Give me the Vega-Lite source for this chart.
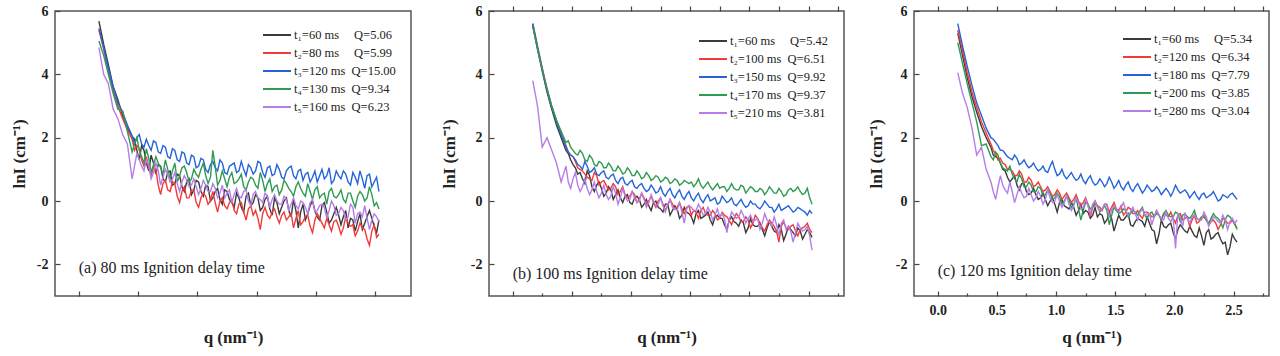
{
"$schema":"https://vega.github.io/schema/vega-lite/v6.json",
"autosize":{"type":"pad"},
"padding":{"left":9,"top":3,"right":5,"bottom":2},
"background":"white",
"bounds":"flush",
"config":{
 "font":"Liberation Serif",
 "view":{"stroke":"#555","strokeWidth":1.5},
 "axis":{"domain":false,"grid":false,"tickColor":"#444","tickWidth":1.2,"labelFont":"Liberation Serif","labelFontWeight":"bold","labelFontSize":14,"labelColor":"#222","titleFont":"Liberation Serif","titleFontWeight":"bold","titleFontSize":17,"titleColor":"#222"},
 "legend":{"title":null,"symbolType":"stroke","symbolSize":784,"symbolStrokeWidth":2,"clipHeight":16,"rowPadding":2,"labelFont":"Liberation Serif","labelFontSize":12.5,"labelColor":"#222","labelOffset":2,"labelLimit":0,"orient":"none"}
},
"datasets":{
"a":[
{"s":1,"q":0.17,"y":5.68},{"s":1,"q":0.21,"y":4.95},{"s":1,"q":0.25,"y":4.3},{"s":1,"q":0.29,"y":3.62},{"s":1,"q":0.33,"y":3.2},{"s":1,"q":0.37,"y":2.7},{"s":1,"q":0.41,"y":2.3},{"s":1,"q":0.45,"y":2.05},{"s":1,"q":0.49,"y":1.6},{"s":1,"q":0.53,"y":1.75},
{"s":1,"q":0.57,"y":1.2},{"s":1,"q":0.61,"y":1.45},{"s":1,"q":0.65,"y":0.85},{"s":1,"q":0.69,"y":1.1},{"s":1,"q":0.73,"y":0.6},{"s":1,"q":0.77,"y":0.95},{"s":1,"q":0.81,"y":0.55},{"s":1,"q":0.85,"y":0.8},{"s":1,"q":0.89,"y":0.3},{"s":1,"q":0.93,"y":0.7},
{"s":1,"q":0.97,"y":0.35},{"s":1,"q":1.01,"y":0.6},{"s":1,"q":1.05,"y":0.15},{"s":1,"q":1.09,"y":0.45},{"s":1,"q":1.13,"y":0.1},{"s":1,"q":1.17,"y":0.4},{"s":1,"q":1.21,"y":-0.1},{"s":1,"q":1.25,"y":0.3},{"s":1,"q":1.29,"y":-0.05},{"s":1,"q":1.33,"y":0.25},
{"s":1,"q":1.37,"y":-0.2},{"s":1,"q":1.41,"y":0.15},{"s":1,"q":1.45,"y":-0.15},{"s":1,"q":1.49,"y":0.2},{"s":1,"q":1.53,"y":-0.3},{"s":1,"q":1.57,"y":0.05},{"s":1,"q":1.61,"y":-0.25},{"s":1,"q":1.65,"y":0.1},{"s":1,"q":1.69,"y":-0.4},{"s":1,"q":1.73,"y":0},
{"s":1,"q":1.77,"y":-0.3},{"s":1,"q":1.81,"y":0.05},{"s":1,"q":1.85,"y":-0.85},{"s":1,"q":1.89,"y":-0.1},{"s":1,"q":1.93,"y":-0.4},{"s":1,"q":1.97,"y":0},{"s":1,"q":2.01,"y":-0.5},{"s":1,"q":2.05,"y":-0.15},{"s":1,"q":2.09,"y":-0.35},{"s":1,"q":2.13,"y":-0.6},
{"s":1,"q":2.17,"y":-0.2},{"s":1,"q":2.21,"y":-0.75},{"s":1,"q":2.25,"y":-0.3},{"s":1,"q":2.29,"y":-0.55},{"s":1,"q":2.33,"y":-0.95},{"s":1,"q":2.37,"y":-0.4},{"s":1,"q":2.41,"y":-0.7},{"s":1,"q":2.45,"y":-0.3},{"s":1,"q":2.49,"y":-0.8},{"s":1,"q":2.53,"y":-0.6},
{"s":2,"q":0.17,"y":5.4},{"s":2,"q":0.21,"y":4.8},{"s":2,"q":0.25,"y":4.1},{"s":2,"q":0.29,"y":3.5},{"s":2,"q":0.33,"y":3.0},{"s":2,"q":0.37,"y":2.6},{"s":2,"q":0.41,"y":2.25},{"s":2,"q":0.45,"y":1.95},{"s":2,"q":0.49,"y":1.75},{"s":2,"q":0.53,"y":1.3},
{"s":2,"q":0.57,"y":1.4},{"s":2,"q":0.61,"y":0.8},{"s":2,"q":0.65,"y":1.0},{"s":2,"q":0.69,"y":0.2},{"s":2,"q":0.73,"y":0.65},{"s":2,"q":0.77,"y":0.3},{"s":2,"q":0.81,"y":0.55},{"s":2,"q":0.85,"y":-0.05},{"s":2,"q":0.89,"y":0.45},{"s":2,"q":0.93,"y":0.1},
{"s":2,"q":0.97,"y":0.35},{"s":2,"q":1.01,"y":-0.2},{"s":2,"q":1.05,"y":0.25},{"s":2,"q":1.09,"y":-0.1},{"s":2,"q":1.13,"y":0.3},{"s":2,"q":1.17,"y":-0.35},{"s":2,"q":1.21,"y":0.1},{"s":2,"q":1.25,"y":-0.25},{"s":2,"q":1.29,"y":0.05},{"s":2,"q":1.33,"y":-0.4},
{"s":2,"q":1.37,"y":-0.05},{"s":2,"q":1.41,"y":-0.6},{"s":2,"q":1.45,"y":-0.15},{"s":2,"q":1.49,"y":-0.3},{"s":2,"q":1.53,"y":-0.9},{"s":2,"q":1.57,"y":-0.2},{"s":2,"q":1.61,"y":-0.55},{"s":2,"q":1.65,"y":-0.25},{"s":2,"q":1.69,"y":-0.7},{"s":2,"q":1.73,"y":-0.35},
{"s":2,"q":1.77,"y":-0.5},{"s":2,"q":1.81,"y":-0.85},{"s":2,"q":1.85,"y":-0.3},{"s":2,"q":1.89,"y":-0.65},{"s":2,"q":1.93,"y":-0.45},{"s":2,"q":1.97,"y":-1.0},{"s":2,"q":2.01,"y":-0.4},{"s":2,"q":2.05,"y":-0.7},{"s":2,"q":2.09,"y":-0.55},{"s":2,"q":2.13,"y":-0.95},
{"s":2,"q":2.17,"y":-0.6},{"s":2,"q":2.21,"y":-1.05},{"s":2,"q":2.25,"y":-0.5},{"s":2,"q":2.29,"y":-0.8},{"s":2,"q":2.33,"y":-1.1},{"s":2,"q":2.37,"y":-0.7},{"s":2,"q":2.41,"y":-0.9},{"s":2,"q":2.45,"y":-1.4},{"s":2,"q":2.49,"y":-0.75},{"s":2,"q":2.53,"y":-1.05},
{"s":3,"q":0.17,"y":5.45},{"s":3,"q":0.21,"y":4.85},{"s":3,"q":0.25,"y":4.2},{"s":3,"q":0.29,"y":3.6},{"s":3,"q":0.33,"y":3.1},{"s":3,"q":0.37,"y":2.8},{"s":3,"q":0.41,"y":2.4},{"s":3,"q":0.45,"y":2.05},{"s":3,"q":0.49,"y":2.0},{"s":3,"q":0.53,"y":1.8},
{"s":3,"q":0.57,"y":1.95},{"s":3,"q":0.61,"y":1.6},{"s":3,"q":0.65,"y":1.85},{"s":3,"q":0.69,"y":1.5},{"s":3,"q":0.73,"y":1.7},{"s":3,"q":0.77,"y":1.35},{"s":3,"q":0.81,"y":1.6},{"s":3,"q":0.85,"y":1.25},{"s":3,"q":0.89,"y":1.5},{"s":3,"q":0.93,"y":1.15},
{"s":3,"q":0.97,"y":1.4},{"s":3,"q":1.01,"y":1.1},{"s":3,"q":1.05,"y":1.3},{"s":3,"q":1.09,"y":0.9},{"s":3,"q":1.13,"y":1.25},{"s":3,"q":1.17,"y":0.95},{"s":3,"q":1.21,"y":1.2},{"s":3,"q":1.25,"y":0.85},{"s":3,"q":1.29,"y":1.15},{"s":3,"q":1.33,"y":0.9},
{"s":3,"q":1.37,"y":1.25},{"s":3,"q":1.41,"y":0.8},{"s":3,"q":1.45,"y":1.05},{"s":3,"q":1.49,"y":0.95},{"s":3,"q":1.53,"y":1.2},{"s":3,"q":1.57,"y":0.75},{"s":3,"q":1.61,"y":1.1},{"s":3,"q":1.65,"y":0.85},{"s":3,"q":1.69,"y":1.0},{"s":3,"q":1.73,"y":0.7},
{"s":3,"q":1.77,"y":1.05},{"s":3,"q":1.81,"y":0.8},{"s":3,"q":1.85,"y":0.95},{"s":3,"q":1.89,"y":0.65},{"s":3,"q":1.93,"y":0.9},{"s":3,"q":1.97,"y":0.75},{"s":3,"q":2.01,"y":0.6},{"s":3,"q":2.05,"y":1.0},{"s":3,"q":2.09,"y":0.8},{"s":3,"q":2.13,"y":0.55},
{"s":3,"q":2.17,"y":0.95},{"s":3,"q":2.21,"y":0.7},{"s":3,"q":2.25,"y":0.85},{"s":3,"q":2.29,"y":0.5},{"s":3,"q":2.33,"y":0.75},{"s":3,"q":2.37,"y":0.95},{"s":3,"q":2.41,"y":0.4},{"s":3,"q":2.45,"y":0.85},{"s":3,"q":2.49,"y":0.6},{"s":3,"q":2.53,"y":0.3},
{"s":4,"q":0.17,"y":5.05},{"s":4,"q":0.21,"y":4.6},{"s":4,"q":0.25,"y":4.0},{"s":4,"q":0.29,"y":3.4},{"s":4,"q":0.33,"y":2.9},{"s":4,"q":0.37,"y":2.85},{"s":4,"q":0.41,"y":2.2},{"s":4,"q":0.45,"y":1.55},{"s":4,"q":0.49,"y":2.0},{"s":4,"q":0.53,"y":1.4},
{"s":4,"q":0.57,"y":1.65},{"s":4,"q":0.61,"y":0.9},{"s":4,"q":0.65,"y":1.4},{"s":4,"q":0.69,"y":1.05},{"s":4,"q":0.73,"y":1.3},{"s":4,"q":0.77,"y":0.7},{"s":4,"q":0.81,"y":1.2},{"s":4,"q":0.85,"y":0.8},{"s":4,"q":0.89,"y":1.1},{"s":4,"q":0.93,"y":0.6},
{"s":4,"q":0.97,"y":1.0},{"s":4,"q":1.01,"y":0.75},{"s":4,"q":1.05,"y":1.2},{"s":4,"q":1.09,"y":0.55},{"s":4,"q":1.13,"y":1.6},{"s":4,"q":1.17,"y":0.5},{"s":4,"q":1.21,"y":0.95},{"s":4,"q":1.25,"y":0.45},{"s":4,"q":1.29,"y":0.9},{"s":4,"q":1.33,"y":0.6},
{"s":4,"q":1.37,"y":0.85},{"s":4,"q":1.41,"y":0.35},{"s":4,"q":1.45,"y":0.75},{"s":4,"q":1.49,"y":0.5},{"s":4,"q":1.53,"y":0.9},{"s":4,"q":1.57,"y":0.3},{"s":4,"q":1.61,"y":0.7},{"s":4,"q":1.65,"y":0.45},{"s":4,"q":1.69,"y":0.2},{"s":4,"q":1.73,"y":0.65},
{"s":4,"q":1.77,"y":0.4},{"s":4,"q":1.81,"y":0.15},{"s":4,"q":1.85,"y":0.6},{"s":4,"q":1.89,"y":0.25},{"s":4,"q":1.93,"y":0.55},{"s":4,"q":1.97,"y":0.05},{"s":4,"q":2.01,"y":0.45},{"s":4,"q":2.05,"y":0.2},{"s":4,"q":2.09,"y":-0.1},{"s":4,"q":2.13,"y":0.4},
{"s":4,"q":2.17,"y":0.1},{"s":4,"q":2.21,"y":0.35},{"s":4,"q":2.25,"y":-0.05},{"s":4,"q":2.29,"y":0.25},{"s":4,"q":2.33,"y":-0.2},{"s":4,"q":2.37,"y":0.3},{"s":4,"q":2.41,"y":0},{"s":4,"q":2.45,"y":0.45},{"s":4,"q":2.49,"y":-0.15},{"s":4,"q":2.53,"y":-0.25},
{"s":5,"q":0.17,"y":4.85},{"s":5,"q":0.21,"y":4.0},{"s":5,"q":0.25,"y":3.7},{"s":5,"q":0.29,"y":2.9},{"s":5,"q":0.33,"y":2.6},{"s":5,"q":0.37,"y":2.1},{"s":5,"q":0.41,"y":1.8},{"s":5,"q":0.45,"y":0.7},{"s":5,"q":0.49,"y":1.5},{"s":5,"q":0.53,"y":1.1},
{"s":5,"q":0.57,"y":1.3},{"s":5,"q":0.61,"y":0.7},{"s":5,"q":0.65,"y":1.2},{"s":5,"q":0.69,"y":0.5},{"s":5,"q":0.73,"y":1.0},{"s":5,"q":0.77,"y":0.6},{"s":5,"q":0.81,"y":0.9},{"s":5,"q":0.85,"y":0.3},{"s":5,"q":0.89,"y":0.8},{"s":5,"q":0.93,"y":0.45},
{"s":5,"q":0.97,"y":0.7},{"s":5,"q":1.01,"y":0.2},{"s":5,"q":1.05,"y":0.65},{"s":5,"q":1.09,"y":0.3},{"s":5,"q":1.13,"y":0.55},{"s":5,"q":1.17,"y":0.1},{"s":5,"q":1.21,"y":0.5},{"s":5,"q":1.25,"y":0.25},{"s":5,"q":1.29,"y":-0.05},{"s":5,"q":1.33,"y":0.4},
{"s":5,"q":1.37,"y":0.1},{"s":5,"q":1.41,"y":0.35},{"s":5,"q":1.45,"y":-0.15},{"s":5,"q":1.49,"y":0.3},{"s":5,"q":1.53,"y":0.05},{"s":5,"q":1.57,"y":0.25},{"s":5,"q":1.61,"y":-0.2},{"s":5,"q":1.65,"y":0.2},{"s":5,"q":1.69,"y":-0.1},{"s":5,"q":1.73,"y":0.15},
{"s":5,"q":1.77,"y":-0.3},{"s":5,"q":1.81,"y":0.1},{"s":5,"q":1.85,"y":-0.25},{"s":5,"q":1.89,"y":-0.05},{"s":5,"q":1.93,"y":-0.4},{"s":5,"q":1.97,"y":0.05},{"s":5,"q":2.01,"y":-0.3},{"s":5,"q":2.05,"y":-0.1},{"s":5,"q":2.09,"y":-0.55},{"s":5,"q":2.13,"y":0},
{"s":5,"q":2.17,"y":-0.45},{"s":5,"q":2.21,"y":-0.2},{"s":5,"q":2.25,"y":-0.6},{"s":5,"q":2.29,"y":-0.1},{"s":5,"q":2.33,"y":-0.7},{"s":5,"q":2.37,"y":-0.35},{"s":5,"q":2.41,"y":-0.15},{"s":5,"q":2.45,"y":-0.9},{"s":5,"q":2.49,"y":-0.4},{"s":5,"q":2.53,"y":-0.65},
{"s":1,"q":0.47,"y":1.95},{"s":1,"q":0.51,"y":1.3},{"s":1,"q":0.55,"y":1.6},{"s":1,"q":0.59,"y":0.95},{"s":1,"q":0.63,"y":1.2},{"s":1,"q":0.67,"y":1.15},{"s":1,"q":0.71,"y":0.7},{"s":1,"q":0.75,"y":0.9},{"s":1,"q":0.79,"y":0.5},{"s":1,"q":0.83,"y":0.85},
{"s":1,"q":0.87,"y":0.45},{"s":1,"q":0.91,"y":0.6},{"s":1,"q":0.95,"y":0.2},{"s":1,"q":0.99,"y":0.65},{"s":1,"q":1.03,"y":0.3},{"s":1,"q":1.07,"y":0.5},{"s":1,"q":1.11,"y":0},{"s":1,"q":1.15,"y":0.3},{"s":1,"q":1.19,"y":0.05},{"s":1,"q":1.23,"y":0.35},
{"s":1,"q":1.27,"y":0.05},{"s":1,"q":1.31,"y":-0.2},{"s":1,"q":1.35,"y":0.1},{"s":1,"q":1.39,"y":-0.35},{"s":1,"q":1.43,"y":0.25},{"s":1,"q":1.47,"y":-0.05},{"s":1,"q":1.51,"y":0.1},{"s":1,"q":1.55,"y":-0.2},{"s":1,"q":1.59,"y":0.15},{"s":1,"q":1.63,"y":-0.45},
{"s":1,"q":1.67,"y":-0.05},{"s":1,"q":1.71,"y":-0.2},{"s":1,"q":1.75,"y":0.1},{"s":1,"q":1.79,"y":-0.5},{"s":1,"q":1.83,"y":-0.3},{"s":1,"q":1.87,"y":-0.35},{"s":1,"q":1.91,"y":-0.6},{"s":1,"q":1.95,"y":-0.15},{"s":1,"q":1.99,"y":-0.3},{"s":1,"q":2.03,"y":-0.6},
{"s":1,"q":2.07,"y":-0.05},{"s":1,"q":2.11,"y":-0.7},{"s":1,"q":2.15,"y":-0.4},{"s":1,"q":2.19,"y":-0.45},{"s":1,"q":2.23,"y":-0.5},{"s":1,"q":2.27,"y":-0.85},{"s":1,"q":2.31,"y":-0.6},{"s":1,"q":2.35,"y":-0.65},{"s":1,"q":2.39,"y":-0.9},{"s":1,"q":2.43,"y":-0.5},
{"s":1,"q":2.47,"y":-0.55},{"s":1,"q":2.51,"y":-1.0},
{"s":2,"q":0.47,"y":1.6},{"s":2,"q":0.51,"y":1.65},{"s":2,"q":0.55,"y":1.1},{"s":2,"q":0.59,"y":1.05},{"s":2,"q":0.63,"y":1.05},{"s":2,"q":0.67,"y":0.5},{"s":2,"q":0.71,"y":0.55},{"s":2,"q":0.75,"y":0.35},{"s":2,"q":0.79,"y":0.6},{"s":2,"q":0.83,"y":0.15},
{"s":2,"q":0.87,"y":0.3},{"s":2,"q":0.91,"y":0.1},{"s":2,"q":0.95,"y":0.35},{"s":2,"q":0.99,"y":-0.05},{"s":2,"q":1.03,"y":0.1},{"s":2,"q":1.07,"y":0.15},{"s":2,"q":1.11,"y":0},{"s":2,"q":1.15,"y":-0.05},{"s":2,"q":1.19,"y":0},{"s":2,"q":1.23,"y":-0.15},
{"s":2,"q":1.27,"y":-0.05},{"s":2,"q":1.31,"y":-0.3},{"s":2,"q":1.35,"y":-0.1},{"s":2,"q":1.39,"y":-0.35},{"s":2,"q":1.43,"y":-0.25},{"s":2,"q":1.47,"y":-0.45},{"s":2,"q":1.51,"y":-0.55},{"s":2,"q":1.55,"y":-0.4},{"s":2,"q":1.59,"y":-0.45},{"s":2,"q":1.63,"y":-0.35},
{"s":2,"q":1.67,"y":-0.5},{"s":2,"q":1.71,"y":-0.45},{"s":2,"q":1.75,"y":-0.6},{"s":2,"q":1.79,"y":-0.4},{"s":2,"q":1.83,"y":-0.55},{"s":2,"q":1.87,"y":-0.75},{"s":2,"q":1.91,"y":-0.5},{"s":2,"q":1.95,"y":-0.8},{"s":2,"q":1.99,"y":-0.6},{"s":2,"q":2.03,"y":-0.55},
{"s":2,"q":2.07,"y":-0.85},{"s":2,"q":2.11,"y":-0.75},{"s":2,"q":2.15,"y":-0.65},{"s":2,"q":2.19,"y":-0.8},{"s":2,"q":2.23,"y":-0.85},{"s":2,"q":2.27,"y":-0.7},{"s":2,"q":2.31,"y":-0.75},{"s":2,"q":2.35,"y":-0.95},{"s":2,"q":2.39,"y":-0.85},{"s":2,"q":2.43,"y":-1.2},
{"s":2,"q":2.47,"y":-0.95},{"s":2,"q":2.51,"y":-1.15},
{"s":3,"q":0.47,"y":1.8},{"s":3,"q":0.51,"y":2.1},{"s":3,"q":0.55,"y":1.7},{"s":3,"q":0.59,"y":1.75},{"s":3,"q":0.63,"y":1.9},{"s":3,"q":0.67,"y":1.55},{"s":3,"q":0.71,"y":1.75},{"s":3,"q":0.75,"y":1.4},{"s":3,"q":0.79,"y":1.65},{"s":3,"q":0.83,"y":1.3},
{"s":3,"q":0.87,"y":1.55},{"s":3,"q":0.91,"y":1.2},{"s":3,"q":0.95,"y":1.45},{"s":3,"q":0.99,"y":1.05},{"s":3,"q":1.03,"y":1.35},{"s":3,"q":1.07,"y":1.0},{"s":3,"q":1.11,"y":1.15},{"s":3,"q":1.15,"y":1.05},{"s":3,"q":1.19,"y":1.3},{"s":3,"q":1.23,"y":0.9},
{"s":3,"q":1.27,"y":1.1},{"s":3,"q":1.31,"y":1.2},{"s":3,"q":1.35,"y":0.95},{"s":3,"q":1.39,"y":1.0},{"s":3,"q":1.43,"y":1.15},{"s":3,"q":1.47,"y":0.85},{"s":3,"q":1.51,"y":1.25},{"s":3,"q":1.55,"y":0.9},{"s":3,"q":1.59,"y":1.05},{"s":3,"q":1.63,"y":0.8},
{"s":3,"q":1.67,"y":1.15},{"s":3,"q":1.71,"y":0.75},{"s":3,"q":1.75,"y":0.95},{"s":3,"q":1.79,"y":1.1},{"s":3,"q":1.83,"y":0.7},{"s":3,"q":1.87,"y":1.0},{"s":3,"q":1.91,"y":0.85},{"s":3,"q":1.95,"y":0.6},{"s":3,"q":1.99,"y":0.95},{"s":3,"q":2.03,"y":0.8},
{"s":3,"q":2.07,"y":0.7},{"s":3,"q":2.11,"y":1.05},{"s":3,"q":2.15,"y":0.65},{"s":3,"q":2.19,"y":0.8},{"s":3,"q":2.23,"y":0.95},{"s":3,"q":2.27,"y":0.6},{"s":3,"q":2.31,"y":0.9},{"s":3,"q":2.35,"y":0.55},{"s":3,"q":2.39,"y":0.7},{"s":3,"q":2.43,"y":0.8},
{"s":3,"q":2.47,"y":0.45},{"s":3,"q":2.51,"y":0.75},
{"s":4,"q":0.47,"y":1.8},{"s":4,"q":0.51,"y":1.6},{"s":4,"q":0.55,"y":1.2},{"s":4,"q":0.59,"y":1.35},{"s":4,"q":0.63,"y":1.15},{"s":4,"q":0.67,"y":1.2},{"s":4,"q":0.71,"y":0.85},{"s":4,"q":0.75,"y":1.0},{"s":4,"q":0.79,"y":0.95},{"s":4,"q":0.83,"y":0.6},
{"s":4,"q":0.87,"y":1.05},{"s":4,"q":0.91,"y":0.9},{"s":4,"q":0.95,"y":0.7},{"s":4,"q":0.99,"y":0.85},{"s":4,"q":1.03,"y":1.0},{"s":4,"q":1.07,"y":0.8},{"s":4,"q":1.11,"y":0.75},{"s":4,"q":1.15,"y":1.1},{"s":4,"q":1.19,"y":0.65},{"s":4,"q":1.23,"y":0.7},
{"s":4,"q":1.27,"y":0.75},{"s":4,"q":1.31,"y":0.55},{"s":4,"q":1.35,"y":0.7},{"s":4,"q":1.39,"y":0.45},{"s":4,"q":1.43,"y":0.6},{"s":4,"q":1.47,"y":0.7},{"s":4,"q":1.51,"y":0.4},{"s":4,"q":1.55,"y":0.65},{"s":4,"q":1.59,"y":0.55},{"s":4,"q":1.63,"y":0.3},
{"s":4,"q":1.67,"y":0.5},{"s":4,"q":1.71,"y":0.35},{"s":4,"q":1.75,"y":0.55},{"s":4,"q":1.79,"y":0.3},{"s":4,"q":1.83,"y":0.45},{"s":4,"q":1.87,"y":0.4},{"s":4,"q":1.91,"y":0.15},{"s":4,"q":1.95,"y":0.3},{"s":4,"q":1.99,"y":0.35},{"s":4,"q":2.03,"y":0.1},
{"s":4,"q":2.07,"y":0.25},{"s":4,"q":2.11,"y":0.3},{"s":4,"q":2.15,"y":0.15},{"s":4,"q":2.19,"y":0.2},{"s":4,"q":2.23,"y":0.05},{"s":4,"q":2.27,"y":0.25},{"s":4,"q":2.31,"y":0},{"s":4,"q":2.35,"y":0.15},{"s":4,"q":2.39,"y":0.2},{"s":4,"q":2.43,"y":0.1},
{"s":4,"q":2.47,"y":0.2},{"s":4,"q":2.51,"y":-0.05},
{"s":5,"q":0.47,"y":1.1},{"s":5,"q":0.51,"y":1.3},{"s":5,"q":0.55,"y":0.95},{"s":5,"q":0.59,"y":1.15},{"s":5,"q":0.63,"y":0.9},{"s":5,"q":0.67,"y":0.95},{"s":5,"q":0.71,"y":0.75},{"s":5,"q":0.75,"y":0.85},{"s":5,"q":0.79,"y":0.7},{"s":5,"q":0.83,"y":0.55},
{"s":5,"q":0.87,"y":0.6},{"s":5,"q":0.91,"y":0.65},{"s":5,"q":0.95,"y":0.5},{"s":5,"q":0.99,"y":0.45},{"s":5,"q":1.03,"y":0.4},{"s":5,"q":1.07,"y":0.5},{"s":5,"q":1.11,"y":0.3},{"s":5,"q":1.15,"y":0.4},{"s":5,"q":1.19,"y":0.25},{"s":5,"q":1.23,"y":0.1},
{"s":5,"q":1.27,"y":0.35},{"s":5,"q":1.31,"y":0.2},{"s":5,"q":1.35,"y":0.15},{"s":5,"q":1.39,"y":0.3},{"s":5,"q":1.43,"y":0},{"s":5,"q":1.47,"y":0.2},{"s":5,"q":1.51,"y":0.1},{"s":5,"q":1.55,"y":-0.05},{"s":5,"q":1.59,"y":0.15},{"s":5,"q":1.63,"y":0.05},
{"s":5,"q":1.67,"y":0},{"s":5,"q":1.71,"y":-0.1},{"s":5,"q":1.75,"y":0.05},{"s":5,"q":1.79,"y":-0.1},{"s":5,"q":1.83,"y":-0.15},{"s":5,"q":1.87,"y":0},{"s":5,"q":1.91,"y":-0.2},{"s":5,"q":1.95,"y":-0.05},{"s":5,"q":1.99,"y":-0.35},{"s":5,"q":2.03,"y":-0.15},
{"s":5,"q":2.07,"y":-0.2},{"s":5,"q":2.11,"y":-0.3},{"s":5,"q":2.15,"y":-0.15},{"s":5,"q":2.19,"y":-0.4},{"s":5,"q":2.23,"y":-0.3},{"s":5,"q":2.27,"y":-0.5},{"s":5,"q":2.31,"y":-0.2},{"s":5,"q":2.35,"y":-0.4},{"s":5,"q":2.39,"y":-0.5},{"s":5,"q":2.43,"y":-0.55},
{"s":5,"q":2.47,"y":-0.6},{"s":5,"q":2.51,"y":-0.5}
],
"b":[
{"s":1,"q":0.17,"y":5.55},{"s":1,"q":0.21,"y":4.8},{"s":1,"q":0.25,"y":4.1},{"s":1,"q":0.29,"y":3.45},{"s":1,"q":0.33,"y":2.9},{"s":1,"q":0.37,"y":2.4},{"s":1,"q":0.41,"y":2.0},{"s":1,"q":0.45,"y":1.6},{"s":1,"q":0.49,"y":1.3},{"s":1,"q":0.53,"y":1.05},
{"s":1,"q":0.57,"y":0.9},{"s":1,"q":0.61,"y":0.55},{"s":1,"q":0.65,"y":0.8},{"s":1,"q":0.69,"y":0.3},{"s":1,"q":0.73,"y":0.6},{"s":1,"q":0.77,"y":0.15},{"s":1,"q":0.81,"y":0.45},{"s":1,"q":0.85,"y":0.05},{"s":1,"q":0.89,"y":0.35},{"s":1,"q":0.93,"y":-0.05},
{"s":1,"q":0.97,"y":0.2},{"s":1,"q":1.01,"y":-0.1},{"s":1,"q":1.05,"y":0.15},{"s":1,"q":1.09,"y":-0.2},{"s":1,"q":1.13,"y":0.05},{"s":1,"q":1.17,"y":-0.3},{"s":1,"q":1.21,"y":0},{"s":1,"q":1.25,"y":-0.25},{"s":1,"q":1.29,"y":-0.1},{"s":1,"q":1.33,"y":-0.45},
{"s":1,"q":1.37,"y":-0.15},{"s":1,"q":1.41,"y":-0.55},{"s":1,"q":1.45,"y":-0.2},{"s":1,"q":1.49,"y":-0.4},{"s":1,"q":1.53,"y":-0.7},{"s":1,"q":1.57,"y":-0.3},{"s":1,"q":1.61,"y":-0.5},{"s":1,"q":1.65,"y":-0.35},{"s":1,"q":1.69,"y":-0.75},{"s":1,"q":1.73,"y":-0.45},
{"s":1,"q":1.77,"y":-0.55},{"s":1,"q":1.81,"y":-0.9},{"s":1,"q":1.85,"y":-0.5},{"s":1,"q":1.89,"y":-0.7},{"s":1,"q":1.93,"y":-0.6},{"s":1,"q":1.97,"y":-1.0},{"s":1,"q":2.01,"y":-0.55},{"s":1,"q":2.05,"y":-0.8},{"s":1,"q":2.09,"y":-0.7},{"s":1,"q":2.13,"y":-1.1},
{"s":1,"q":2.17,"y":-0.65},{"s":1,"q":2.21,"y":-0.95},{"s":1,"q":2.25,"y":-0.75},{"s":1,"q":2.29,"y":-1.25},{"s":1,"q":2.33,"y":-0.8},{"s":1,"q":2.37,"y":-1.0},{"s":1,"q":2.41,"y":-0.85},{"s":1,"q":2.45,"y":-1.2},{"s":1,"q":2.49,"y":-0.9},{"s":1,"q":2.53,"y":-1.15},
{"s":2,"q":0.17,"y":5.6},{"s":2,"q":0.21,"y":4.9},{"s":2,"q":0.25,"y":4.2},{"s":2,"q":0.29,"y":3.55},{"s":2,"q":0.33,"y":3.0},{"s":2,"q":0.37,"y":2.55},{"s":2,"q":0.41,"y":2.15},{"s":2,"q":0.45,"y":1.75},{"s":2,"q":0.49,"y":1.45},{"s":2,"q":0.53,"y":1.25},
{"s":2,"q":0.57,"y":1.0},{"s":2,"q":0.61,"y":0.85},{"s":2,"q":0.65,"y":0.7},{"s":2,"q":0.69,"y":0.9},{"s":2,"q":0.73,"y":0.5},{"s":2,"q":0.77,"y":0.65},{"s":2,"q":0.81,"y":0.35},{"s":2,"q":0.85,"y":0.55},{"s":2,"q":0.89,"y":0.2},{"s":2,"q":0.93,"y":0.45},
{"s":2,"q":0.97,"y":0.1},{"s":2,"q":1.01,"y":0.3},{"s":2,"q":1.05,"y":-0.05},{"s":2,"q":1.09,"y":0.25},{"s":2,"q":1.13,"y":-0.1},{"s":2,"q":1.17,"y":0.15},{"s":2,"q":1.21,"y":-0.2},{"s":2,"q":1.25,"y":0.1},{"s":2,"q":1.29,"y":-0.3},{"s":2,"q":1.33,"y":0.05},
{"s":2,"q":1.37,"y":-0.25},{"s":2,"q":1.41,"y":-0.05},{"s":2,"q":1.45,"y":-0.4},{"s":2,"q":1.49,"y":-0.15},{"s":2,"q":1.53,"y":-0.3},{"s":2,"q":1.57,"y":-0.55},{"s":2,"q":1.61,"y":-0.2},{"s":2,"q":1.65,"y":-0.45},{"s":2,"q":1.69,"y":-0.3},{"s":2,"q":1.73,"y":-0.6},
{"s":2,"q":1.77,"y":-0.35},{"s":2,"q":1.81,"y":-0.5},{"s":2,"q":1.85,"y":-0.75},{"s":2,"q":1.89,"y":-0.4},{"s":2,"q":1.93,"y":-0.65},{"s":2,"q":1.97,"y":-0.5},{"s":2,"q":2.01,"y":-0.85},{"s":2,"q":2.05,"y":-0.45},{"s":2,"q":2.09,"y":-0.7},{"s":2,"q":2.13,"y":-0.95},
{"s":2,"q":2.17,"y":-0.6},{"s":2,"q":2.21,"y":-0.8},{"s":2,"q":2.25,"y":-1.3},{"s":2,"q":2.29,"y":-0.65},{"s":2,"q":2.33,"y":-0.9},{"s":2,"q":2.37,"y":-0.75},{"s":2,"q":2.41,"y":-1.1},{"s":2,"q":2.45,"y":-0.85},{"s":2,"q":2.49,"y":-0.7},{"s":2,"q":2.53,"y":-1.0},
{"s":3,"q":0.17,"y":5.6},{"s":3,"q":0.21,"y":4.85},{"s":3,"q":0.25,"y":4.15},{"s":3,"q":0.29,"y":3.5},{"s":3,"q":0.33,"y":2.95},{"s":3,"q":0.37,"y":2.5},{"s":3,"q":0.41,"y":2.1},{"s":3,"q":0.45,"y":1.7},{"s":3,"q":0.49,"y":1.45},{"s":3,"q":0.53,"y":1.3},
{"s":3,"q":0.57,"y":1.1},{"s":3,"q":0.61,"y":1.25},{"s":3,"q":0.65,"y":0.9},{"s":3,"q":0.69,"y":1.05},{"s":3,"q":0.73,"y":0.8},{"s":3,"q":0.77,"y":0.95},{"s":3,"q":0.81,"y":0.7},{"s":3,"q":0.85,"y":0.85},{"s":3,"q":0.89,"y":0.55},{"s":3,"q":0.93,"y":0.75},
{"s":3,"q":0.97,"y":0.5},{"s":3,"q":1.01,"y":0.65},{"s":3,"q":1.05,"y":0.4},{"s":3,"q":1.09,"y":0.55},{"s":3,"q":1.13,"y":0.3},{"s":3,"q":1.17,"y":0.5},{"s":3,"q":1.21,"y":0.25},{"s":3,"q":1.25,"y":0.45},{"s":3,"q":1.29,"y":0.15},{"s":3,"q":1.33,"y":0.4},
{"s":3,"q":1.37,"y":0.1},{"s":3,"q":1.41,"y":0.35},{"s":3,"q":1.45,"y":0.05},{"s":3,"q":1.49,"y":0.3},{"s":3,"q":1.53,"y":0},{"s":3,"q":1.57,"y":0.25},{"s":3,"q":1.61,"y":-0.05},{"s":3,"q":1.65,"y":0.2},{"s":3,"q":1.69,"y":0.05},{"s":3,"q":1.73,"y":-0.1},
{"s":3,"q":1.77,"y":0.15},{"s":3,"q":1.81,"y":-0.05},{"s":3,"q":1.85,"y":0.1},{"s":3,"q":1.89,"y":-0.15},{"s":3,"q":1.93,"y":0.05},{"s":3,"q":1.97,"y":-0.2},{"s":3,"q":2.01,"y":0},{"s":3,"q":2.05,"y":-0.1},{"s":3,"q":2.09,"y":-0.25},{"s":3,"q":2.13,"y":0},
{"s":3,"q":2.17,"y":-0.2},{"s":3,"q":2.21,"y":-0.35},{"s":3,"q":2.25,"y":-0.1},{"s":3,"q":2.29,"y":-0.25},{"s":3,"q":2.33,"y":-0.15},{"s":3,"q":2.37,"y":-0.35},{"s":3,"q":2.41,"y":-0.2},{"s":3,"q":2.45,"y":-0.3},{"s":3,"q":2.49,"y":-0.45},{"s":3,"q":2.53,"y":-0.4},
{"s":4,"q":0.17,"y":5.5},{"s":4,"q":0.21,"y":4.8},{"s":4,"q":0.25,"y":4.15},{"s":4,"q":0.29,"y":3.55},{"s":4,"q":0.33,"y":3.0},{"s":4,"q":0.37,"y":2.55},{"s":4,"q":0.41,"y":2.2},{"s":4,"q":0.45,"y":1.85},{"s":4,"q":0.49,"y":1.7},{"s":4,"q":0.53,"y":1.5},
{"s":4,"q":0.57,"y":1.6},{"s":4,"q":0.61,"y":1.3},{"s":4,"q":0.65,"y":1.45},{"s":4,"q":0.69,"y":1.15},{"s":4,"q":0.73,"y":1.25},{"s":4,"q":0.77,"y":1.05},{"s":4,"q":0.81,"y":1.2},{"s":4,"q":0.85,"y":0.95},{"s":4,"q":0.89,"y":1.1},{"s":4,"q":0.93,"y":0.85},
{"s":4,"q":0.97,"y":1.05},{"s":4,"q":1.01,"y":0.8},{"s":4,"q":1.05,"y":0.95},{"s":4,"q":1.09,"y":0.7},{"s":4,"q":1.13,"y":0.9},{"s":4,"q":1.17,"y":0.65},{"s":4,"q":1.21,"y":0.8},{"s":4,"q":1.25,"y":0.6},{"s":4,"q":1.29,"y":0.75},{"s":4,"q":1.33,"y":0.55},
{"s":4,"q":1.37,"y":0.7},{"s":4,"q":1.41,"y":0.5},{"s":4,"q":1.45,"y":0.65},{"s":4,"q":1.49,"y":0.55},{"s":4,"q":1.53,"y":0.45},{"s":4,"q":1.57,"y":0.7},{"s":4,"q":1.61,"y":0.4},{"s":4,"q":1.65,"y":0.6},{"s":4,"q":1.69,"y":0.35},{"s":4,"q":1.73,"y":0.55},
{"s":4,"q":1.77,"y":0.45},{"s":4,"q":1.81,"y":0.3},{"s":4,"q":1.85,"y":0.55},{"s":4,"q":1.89,"y":0.35},{"s":4,"q":1.93,"y":0.5},{"s":4,"q":1.97,"y":0.25},{"s":4,"q":2.01,"y":0.45},{"s":4,"q":2.05,"y":0.3},{"s":4,"q":2.09,"y":0.4},{"s":4,"q":2.13,"y":0.2},
{"s":4,"q":2.17,"y":0.45},{"s":4,"q":2.21,"y":0.25},{"s":4,"q":2.25,"y":0.4},{"s":4,"q":2.29,"y":0.15},{"s":4,"q":2.33,"y":0.35},{"s":4,"q":2.37,"y":0.3},{"s":4,"q":2.41,"y":0.45},{"s":4,"q":2.45,"y":0.2},{"s":4,"q":2.49,"y":0.4},{"s":4,"q":2.53,"y":-0.1},
{"s":5,"q":0.17,"y":3.8},{"s":5,"q":0.21,"y":3.0},{"s":5,"q":0.25,"y":1.7},{"s":5,"q":0.29,"y":2.0},{"s":5,"q":0.33,"y":1.6},{"s":5,"q":0.37,"y":1.2},{"s":5,"q":0.41,"y":0.6},{"s":5,"q":0.45,"y":1.1},{"s":5,"q":0.49,"y":0.4},{"s":5,"q":0.53,"y":0.9},
{"s":5,"q":0.57,"y":0.3},{"s":5,"q":0.61,"y":0.7},{"s":5,"q":0.65,"y":0.2},{"s":5,"q":0.69,"y":0.6},{"s":5,"q":0.73,"y":0.1},{"s":5,"q":0.77,"y":0.5},{"s":5,"q":0.81,"y":0.05},{"s":5,"q":0.85,"y":0.45},{"s":5,"q":0.89,"y":-0.1},{"s":5,"q":0.93,"y":0.4},
{"s":5,"q":0.97,"y":0},{"s":5,"q":1.01,"y":0.3},{"s":5,"q":1.05,"y":-0.05},{"s":5,"q":1.09,"y":0.25},{"s":5,"q":1.13,"y":-0.2},{"s":5,"q":1.17,"y":0.2},{"s":5,"q":1.21,"y":-0.15},{"s":5,"q":1.25,"y":0.1},{"s":5,"q":1.29,"y":-0.35},{"s":5,"q":1.33,"y":0.05},
{"s":5,"q":1.37,"y":-0.25},{"s":5,"q":1.41,"y":-0.05},{"s":5,"q":1.45,"y":-0.7},{"s":5,"q":1.49,"y":-0.15},{"s":5,"q":1.53,"y":-0.3},{"s":5,"q":1.57,"y":-0.1},{"s":5,"q":1.61,"y":-0.45},{"s":5,"q":1.65,"y":-0.2},{"s":5,"q":1.69,"y":-0.6},{"s":5,"q":1.73,"y":-0.25},
{"s":5,"q":1.77,"y":-0.4},{"s":5,"q":1.81,"y":-1.0},{"s":5,"q":1.85,"y":-0.35},{"s":5,"q":1.89,"y":-0.55},{"s":5,"q":1.93,"y":-0.3},{"s":5,"q":1.97,"y":-0.7},{"s":5,"q":2.01,"y":-0.45},{"s":5,"q":2.05,"y":-0.6},{"s":5,"q":2.09,"y":-0.9},{"s":5,"q":2.13,"y":-0.4},
{"s":5,"q":2.17,"y":-0.65},{"s":5,"q":2.21,"y":-0.5},{"s":5,"q":2.25,"y":-1.1},{"s":5,"q":2.29,"y":-0.6},{"s":5,"q":2.33,"y":-0.8},{"s":5,"q":2.37,"y":-1.3},{"s":5,"q":2.41,"y":-0.7},{"s":5,"q":2.45,"y":-0.95},{"s":5,"q":2.49,"y":-0.8},{"s":5,"q":2.53,"y":-1.55},
{"s":1,"q":0.47,"y":1.5},{"s":1,"q":0.51,"y":1.15},{"s":1,"q":0.55,"y":0.85},{"s":1,"q":0.59,"y":0.7},{"s":1,"q":0.63,"y":0.95},{"s":1,"q":0.67,"y":0.45},{"s":1,"q":0.71,"y":0.5},{"s":1,"q":0.75,"y":0.4},{"s":1,"q":0.79,"y":0.25},{"s":1,"q":0.83,"y":0.35},
{"s":1,"q":0.87,"y":0.2},{"s":1,"q":0.91,"y":0.1},{"s":1,"q":0.95,"y":0.15},{"s":1,"q":0.99,"y":-0.05},{"s":1,"q":1.03,"y":0.1},{"s":1,"q":1.07,"y":0.05},{"s":1,"q":1.11,"y":-0.1},{"s":1,"q":1.15,"y":-0.15},{"s":1,"q":1.19,"y":-0.05},{"s":1,"q":1.23,"y":-0.2},
{"s":1,"q":1.27,"y":-0.35},{"s":1,"q":1.31,"y":-0.1},{"s":1,"q":1.35,"y":-0.3},{"s":1,"q":1.39,"y":-0.25},{"s":1,"q":1.43,"y":-0.45},{"s":1,"q":1.47,"y":-0.35},{"s":1,"q":1.51,"y":-0.5},{"s":1,"q":1.55,"y":-0.4},{"s":1,"q":1.59,"y":-0.55},{"s":1,"q":1.63,"y":-0.45},
{"s":1,"q":1.67,"y":-0.6},{"s":1,"q":1.71,"y":-0.5},{"s":1,"q":1.75,"y":-0.55},{"s":1,"q":1.79,"y":-0.75},{"s":1,"q":1.83,"y":-0.6},{"s":1,"q":1.87,"y":-0.65},{"s":1,"q":1.91,"y":-0.8},{"s":1,"q":1.95,"y":-0.7},{"s":1,"q":1.99,"y":-0.85},{"s":1,"q":2.03,"y":-0.75},
{"s":1,"q":2.07,"y":-0.8},{"s":1,"q":2.11,"y":-0.9},{"s":1,"q":2.15,"y":-0.85},{"s":1,"q":2.19,"y":-0.8},{"s":1,"q":2.23,"y":-1.0},{"s":1,"q":2.27,"y":-0.9},{"s":1,"q":2.31,"y":-1.05},{"s":1,"q":2.35,"y":-0.9},{"s":1,"q":2.39,"y":-1.1},{"s":1,"q":2.43,"y":-0.95},
{"s":1,"q":2.47,"y":-1.05},{"s":1,"q":2.51,"y":-1.0},
{"s":2,"q":0.47,"y":1.55},{"s":2,"q":0.51,"y":1.4},{"s":2,"q":0.55,"y":1.05},{"s":2,"q":0.59,"y":0.95},{"s":2,"q":0.63,"y":0.75},{"s":2,"q":0.67,"y":0.65},{"s":2,"q":0.71,"y":0.8},{"s":2,"q":0.75,"y":0.6},{"s":2,"q":0.79,"y":0.5},{"s":2,"q":0.83,"y":0.4},
{"s":2,"q":0.87,"y":0.45},{"s":2,"q":0.91,"y":0.3},{"s":2,"q":0.95,"y":0.2},{"s":2,"q":0.99,"y":0.15},{"s":2,"q":1.03,"y":0.2},{"s":2,"q":1.07,"y":0.05},{"s":2,"q":1.11,"y":0.1},{"s":2,"q":1.15,"y":0},{"s":2,"q":1.19,"y":-0.05},{"s":2,"q":1.23,"y":0},
{"s":2,"q":1.27,"y":-0.1},{"s":2,"q":1.31,"y":-0.15},{"s":2,"q":1.35,"y":-0.1},{"s":2,"q":1.39,"y":-0.2},{"s":2,"q":1.43,"y":-0.25},{"s":2,"q":1.47,"y":-0.2},{"s":2,"q":1.51,"y":-0.45},{"s":2,"q":1.55,"y":-0.35},{"s":2,"q":1.59,"y":-0.3},{"s":2,"q":1.63,"y":-0.4},
{"s":2,"q":1.67,"y":-0.45},{"s":2,"q":1.71,"y":-0.4},{"s":2,"q":1.75,"y":-0.55},{"s":2,"q":1.79,"y":-0.45},{"s":2,"q":1.83,"y":-0.6},{"s":2,"q":1.87,"y":-0.55},{"s":2,"q":1.91,"y":-0.5},{"s":2,"q":1.95,"y":-0.65},{"s":2,"q":1.99,"y":-0.6},{"s":2,"q":2.03,"y":-0.7},
{"s":2,"q":2.07,"y":-0.55},{"s":2,"q":2.11,"y":-0.85},{"s":2,"q":2.15,"y":-0.75},{"s":2,"q":2.19,"y":-0.7},{"s":2,"q":2.23,"y":-0.95},{"s":2,"q":2.27,"y":-0.8},{"s":2,"q":2.31,"y":-0.85},{"s":2,"q":2.35,"y":-0.8},{"s":2,"q":2.39,"y":-0.95},{"s":2,"q":2.43,"y":-0.9},
{"s":2,"q":2.47,"y":-0.8},{"s":2,"q":2.51,"y":-0.9},
{"s":3,"q":0.47,"y":1.55},{"s":3,"q":0.51,"y":1.4},{"s":3,"q":0.55,"y":1.15},{"s":3,"q":0.59,"y":1.0},{"s":3,"q":0.63,"y":1.1},{"s":3,"q":0.67,"y":0.95},{"s":3,"q":0.71,"y":0.85},{"s":3,"q":0.75,"y":0.9},{"s":3,"q":0.79,"y":0.75},{"s":3,"q":0.83,"y":0.8},
{"s":3,"q":0.87,"y":0.65},{"s":3,"q":0.91,"y":0.7},{"s":3,"q":0.95,"y":0.55},{"s":3,"q":0.99,"y":0.6},{"s":3,"q":1.03,"y":0.45},{"s":3,"q":1.07,"y":0.5},{"s":3,"q":1.11,"y":0.4},{"s":3,"q":1.15,"y":0.35},{"s":3,"q":1.19,"y":0.4},{"s":3,"q":1.23,"y":0.3},
{"s":3,"q":1.27,"y":0.25},{"s":3,"q":1.31,"y":0.3},{"s":3,"q":1.35,"y":0.2},{"s":3,"q":1.39,"y":0.25},{"s":3,"q":1.43,"y":0.15},{"s":3,"q":1.47,"y":0.2},{"s":3,"q":1.51,"y":0.1},{"s":3,"q":1.55,"y":0.15},{"s":3,"q":1.59,"y":0.05},{"s":3,"q":1.63,"y":0.1},
{"s":3,"q":1.67,"y":0},{"s":3,"q":1.71,"y":0.1},{"s":3,"q":1.75,"y":-0.05},{"s":3,"q":1.79,"y":0.05},{"s":3,"q":1.83,"y":0},{"s":3,"q":1.87,"y":-0.1},{"s":3,"q":1.91,"y":-0.05},{"s":3,"q":1.95,"y":-0.1},{"s":3,"q":1.99,"y":-0.15},{"s":3,"q":2.03,"y":-0.1},
{"s":3,"q":2.07,"y":-0.2},{"s":3,"q":2.11,"y":-0.15},{"s":3,"q":2.15,"y":-0.1},{"s":3,"q":2.19,"y":-0.2},{"s":3,"q":2.23,"y":-0.25},{"s":3,"q":2.27,"y":-0.3},{"s":3,"q":2.31,"y":-0.2},{"s":3,"q":2.35,"y":-0.25},{"s":3,"q":2.39,"y":-0.3},{"s":3,"q":2.43,"y":-0.25},
{"s":3,"q":2.47,"y":-0.35},{"s":3,"q":2.51,"y":-0.3},
{"s":4,"q":0.47,"y":1.9},{"s":4,"q":0.51,"y":1.6},{"s":4,"q":0.55,"y":1.45},{"s":4,"q":0.59,"y":1.5},{"s":4,"q":0.63,"y":1.25},{"s":4,"q":0.67,"y":1.35},{"s":4,"q":0.71,"y":1.1},{"s":4,"q":0.75,"y":1.2},{"s":4,"q":0.79,"y":1.05},{"s":4,"q":0.83,"y":1.1},
{"s":4,"q":0.87,"y":0.95},{"s":4,"q":0.91,"y":1.0},{"s":4,"q":0.95,"y":0.9},{"s":4,"q":0.99,"y":0.95},{"s":4,"q":1.03,"y":0.8},{"s":4,"q":1.07,"y":0.85},{"s":4,"q":1.11,"y":0.75},{"s":4,"q":1.15,"y":0.8},{"s":4,"q":1.19,"y":0.7},{"s":4,"q":1.23,"y":0.75},
{"s":4,"q":1.27,"y":0.65},{"s":4,"q":1.31,"y":0.7},{"s":4,"q":1.35,"y":0.6},{"s":4,"q":1.39,"y":0.65},{"s":4,"q":1.43,"y":0.55},{"s":4,"q":1.47,"y":0.6},{"s":4,"q":1.51,"y":0.6},{"s":4,"q":1.55,"y":0.55},{"s":4,"q":1.59,"y":0.5},{"s":4,"q":1.63,"y":0.5},
{"s":4,"q":1.67,"y":0.45},{"s":4,"q":1.71,"y":0.45},{"s":4,"q":1.75,"y":0.4},{"s":4,"q":1.79,"y":0.45},{"s":4,"q":1.83,"y":0.4},{"s":4,"q":1.87,"y":0.4},{"s":4,"q":1.91,"y":0.35},{"s":4,"q":1.95,"y":0.45},{"s":4,"q":1.99,"y":0.35},{"s":4,"q":2.03,"y":0.4},
{"s":4,"q":2.07,"y":0.3},{"s":4,"q":2.11,"y":0.35},{"s":4,"q":2.15,"y":0.3},{"s":4,"q":2.19,"y":0.35},{"s":4,"q":2.23,"y":0.25},{"s":4,"q":2.27,"y":0.3},{"s":4,"q":2.31,"y":0.2},{"s":4,"q":2.35,"y":0.4},{"s":4,"q":2.39,"y":0.35},{"s":4,"q":2.43,"y":0.3},
{"s":4,"q":2.47,"y":0.25},{"s":4,"q":2.51,"y":0.1},
{"s":5,"q":0.47,"y":0.6},{"s":5,"q":0.51,"y":0.7},{"s":5,"q":0.55,"y":0.5},{"s":5,"q":0.59,"y":0.45},{"s":5,"q":0.63,"y":0.4},{"s":5,"q":0.67,"y":0.35},{"s":5,"q":0.71,"y":0.3},{"s":5,"q":0.75,"y":0.25},{"s":5,"q":0.79,"y":0.2},{"s":5,"q":0.83,"y":0.15},
{"s":5,"q":0.87,"y":0.25},{"s":5,"q":0.91,"y":0.1},{"s":5,"q":0.95,"y":0.15},{"s":5,"q":0.99,"y":0.05},{"s":5,"q":1.03,"y":0.1},{"s":5,"q":1.07,"y":0},{"s":5,"q":1.11,"y":0.05},{"s":5,"q":1.15,"y":-0.05},{"s":5,"q":1.19,"y":0},{"s":5,"q":1.23,"y":-0.1},
{"s":5,"q":1.27,"y":-0.15},{"s":5,"q":1.31,"y":-0.1},{"s":5,"q":1.35,"y":-0.2},{"s":5,"q":1.39,"y":-0.3},{"s":5,"q":1.43,"y":-0.35},{"s":5,"q":1.47,"y":-0.25},{"s":5,"q":1.51,"y":-0.2},{"s":5,"q":1.55,"y":-0.3},{"s":5,"q":1.59,"y":-0.25},{"s":5,"q":1.63,"y":-0.4},
{"s":5,"q":1.67,"y":-0.35},{"s":5,"q":1.71,"y":-0.45},{"s":5,"q":1.75,"y":-0.5},{"s":5,"q":1.79,"y":-0.55},{"s":5,"q":1.83,"y":-0.6},{"s":5,"q":1.87,"y":-0.45},{"s":5,"q":1.91,"y":-0.5},{"s":5,"q":1.95,"y":-0.45},{"s":5,"q":1.99,"y":-0.55},{"s":5,"q":2.03,"y":-0.65},
{"s":5,"q":2.07,"y":-0.55},{"s":5,"q":2.11,"y":-0.7},{"s":5,"q":2.15,"y":-0.6},{"s":5,"q":2.19,"y":-0.8},{"s":5,"q":2.23,"y":-0.75},{"s":5,"q":2.27,"y":-0.7},{"s":5,"q":2.31,"y":-0.9},{"s":5,"q":2.35,"y":-0.95},{"s":5,"q":2.39,"y":-1.0},{"s":5,"q":2.43,"y":-0.85},
{"s":5,"q":2.47,"y":-0.9},{"s":5,"q":2.51,"y":-1.1}
],
"c":[
{"s":1,"q":0.17,"y":5.3},{"s":1,"q":0.21,"y":4.6},{"s":1,"q":0.25,"y":3.9},{"s":1,"q":0.29,"y":3.3},{"s":1,"q":0.33,"y":2.8},{"s":1,"q":0.37,"y":2.35},{"s":1,"q":0.41,"y":2.0},{"s":1,"q":0.45,"y":1.7},{"s":1,"q":0.49,"y":1.4},{"s":1,"q":0.53,"y":1.2},
{"s":1,"q":0.57,"y":0.95},{"s":1,"q":0.61,"y":0.6},{"s":1,"q":0.65,"y":0.8},{"s":1,"q":0.69,"y":0.35},{"s":1,"q":0.73,"y":0.55},{"s":1,"q":0.77,"y":0.2},{"s":1,"q":0.81,"y":0.4},{"s":1,"q":0.85,"y":0.05},{"s":1,"q":0.89,"y":0.25},{"s":1,"q":0.93,"y":-0.15},
{"s":1,"q":0.97,"y":0.1},{"s":1,"q":1.01,"y":-0.35},{"s":1,"q":1.05,"y":0.05},{"s":1,"q":1.09,"y":-0.2},{"s":1,"q":1.13,"y":-0.05},{"s":1,"q":1.17,"y":-0.45},{"s":1,"q":1.21,"y":-0.1},{"s":1,"q":1.25,"y":-0.3},{"s":1,"q":1.29,"y":-0.55},{"s":1,"q":1.33,"y":-0.2},
{"s":1,"q":1.37,"y":-0.4},{"s":1,"q":1.41,"y":-0.7},{"s":1,"q":1.45,"y":-0.35},{"s":1,"q":1.49,"y":-0.95},{"s":1,"q":1.53,"y":-0.45},{"s":1,"q":1.57,"y":-0.6},{"s":1,"q":1.61,"y":-0.4},{"s":1,"q":1.65,"y":-0.8},{"s":1,"q":1.69,"y":-0.55},{"s":1,"q":1.73,"y":-0.65},
{"s":1,"q":1.77,"y":-0.5},{"s":1,"q":1.81,"y":-0.9},{"s":1,"q":1.85,"y":-1.35},{"s":1,"q":1.89,"y":-0.6},{"s":1,"q":1.93,"y":-0.85},{"s":1,"q":1.97,"y":-0.7},{"s":1,"q":2.01,"y":-1.2},{"s":1,"q":2.05,"y":-0.75},{"s":1,"q":2.09,"y":-0.95},{"s":1,"q":2.13,"y":-0.8},
{"s":1,"q":2.17,"y":-1.1},{"s":1,"q":2.21,"y":-0.85},{"s":1,"q":2.25,"y":-1.4},{"s":1,"q":2.29,"y":-0.9},{"s":1,"q":2.33,"y":-1.15},{"s":1,"q":2.37,"y":-1.0},{"s":1,"q":2.41,"y":-1.35},{"s":1,"q":2.45,"y":-1.7},{"s":1,"q":2.49,"y":-1.05},{"s":1,"q":2.53,"y":-1.3},
{"s":2,"q":0.17,"y":5.4},{"s":2,"q":0.21,"y":4.75},{"s":2,"q":0.25,"y":4.05},{"s":2,"q":0.29,"y":3.45},{"s":2,"q":0.33,"y":2.95},{"s":2,"q":0.37,"y":2.5},{"s":2,"q":0.41,"y":2.15},{"s":2,"q":0.45,"y":1.8},{"s":2,"q":0.49,"y":1.5},{"s":2,"q":0.53,"y":1.35},
{"s":2,"q":0.57,"y":1.15},{"s":2,"q":0.61,"y":1.0},{"s":2,"q":0.65,"y":0.8},{"s":2,"q":0.69,"y":0.95},{"s":2,"q":0.73,"y":0.6},{"s":2,"q":0.77,"y":0.75},{"s":2,"q":0.81,"y":0.45},{"s":2,"q":0.85,"y":0.6},{"s":2,"q":0.89,"y":0.3},{"s":2,"q":0.93,"y":0.45},
{"s":2,"q":0.97,"y":0.15},{"s":2,"q":1.01,"y":0.35},{"s":2,"q":1.05,"y":0.05},{"s":2,"q":1.09,"y":0.25},{"s":2,"q":1.13,"y":-0.05},{"s":2,"q":1.17,"y":0.2},{"s":2,"q":1.21,"y":-0.15},{"s":2,"q":1.25,"y":0.1},{"s":2,"q":1.29,"y":-0.5},{"s":2,"q":1.33,"y":0},
{"s":2,"q":1.37,"y":-0.2},{"s":2,"q":1.41,"y":-0.1},{"s":2,"q":1.45,"y":-0.35},{"s":2,"q":1.49,"y":-0.05},{"s":2,"q":1.53,"y":-0.3},{"s":2,"q":1.57,"y":-0.45},{"s":2,"q":1.61,"y":-0.2},{"s":2,"q":1.65,"y":-0.4},{"s":2,"q":1.69,"y":-0.3},{"s":2,"q":1.73,"y":-0.55},
{"s":2,"q":1.77,"y":-0.35},{"s":2,"q":1.81,"y":-0.5},{"s":2,"q":1.85,"y":-0.3},{"s":2,"q":1.89,"y":-0.6},{"s":2,"q":1.93,"y":-0.45},{"s":2,"q":1.97,"y":-0.35},{"s":2,"q":2.01,"y":-0.7},{"s":2,"q":2.05,"y":-0.4},{"s":2,"q":2.09,"y":-0.55},{"s":2,"q":2.13,"y":-0.8},
{"s":2,"q":2.17,"y":-0.45},{"s":2,"q":2.21,"y":-0.65},{"s":2,"q":2.25,"y":-0.5},{"s":2,"q":2.29,"y":-0.75},{"s":2,"q":2.33,"y":-0.6},{"s":2,"q":2.37,"y":-0.9},{"s":2,"q":2.41,"y":-0.55},{"s":2,"q":2.45,"y":-0.7},{"s":2,"q":2.49,"y":-0.6},{"s":2,"q":2.53,"y":-0.85},
{"s":3,"q":0.17,"y":5.6},{"s":3,"q":0.21,"y":4.9},{"s":3,"q":0.25,"y":4.25},{"s":3,"q":0.29,"y":3.65},{"s":3,"q":0.33,"y":3.1},{"s":3,"q":0.37,"y":2.7},{"s":3,"q":0.41,"y":2.3},{"s":3,"q":0.45,"y":2.0},{"s":3,"q":0.49,"y":1.85},{"s":3,"q":0.53,"y":1.6},
{"s":3,"q":0.57,"y":1.5},{"s":3,"q":0.61,"y":1.35},{"s":3,"q":0.65,"y":1.45},{"s":3,"q":0.69,"y":1.15},{"s":3,"q":0.73,"y":1.3},{"s":3,"q":0.77,"y":1.05},{"s":3,"q":0.81,"y":1.2},{"s":3,"q":0.85,"y":0.95},{"s":3,"q":0.89,"y":1.1},{"s":3,"q":0.93,"y":0.9},
{"s":3,"q":0.97,"y":1.25},{"s":3,"q":1.01,"y":0.8},{"s":3,"q":1.05,"y":1.0},{"s":3,"q":1.09,"y":0.7},{"s":3,"q":1.13,"y":0.9},{"s":3,"q":1.17,"y":0.65},{"s":3,"q":1.21,"y":0.85},{"s":3,"q":1.25,"y":0.55},{"s":3,"q":1.29,"y":0.8},{"s":3,"q":1.33,"y":0.5},
{"s":3,"q":1.37,"y":0.7},{"s":3,"q":1.41,"y":0.45},{"s":3,"q":1.45,"y":0.75},{"s":3,"q":1.49,"y":0.4},{"s":3,"q":1.53,"y":0.65},{"s":3,"q":1.57,"y":0.35},{"s":3,"q":1.61,"y":0.6},{"s":3,"q":1.65,"y":0.3},{"s":3,"q":1.69,"y":0.55},{"s":3,"q":1.73,"y":0.25},
{"s":3,"q":1.77,"y":0.5},{"s":3,"q":1.81,"y":0.3},{"s":3,"q":1.85,"y":0.45},{"s":3,"q":1.89,"y":0.2},{"s":3,"q":1.93,"y":0.4},{"s":3,"q":1.97,"y":0.15},{"s":3,"q":2.01,"y":0.5},{"s":3,"q":2.05,"y":0.25},{"s":3,"q":2.09,"y":0.35},{"s":3,"q":2.13,"y":0.1},
{"s":3,"q":2.17,"y":0.3},{"s":3,"q":2.21,"y":0.05},{"s":3,"q":2.25,"y":0.25},{"s":3,"q":2.29,"y":0.15},{"s":3,"q":2.33,"y":0.3},{"s":3,"q":2.37,"y":0},{"s":3,"q":2.41,"y":0.2},{"s":3,"q":2.45,"y":0.1},{"s":3,"q":2.49,"y":0.25},{"s":3,"q":2.53,"y":0.05},
{"s":4,"q":0.17,"y":5.0},{"s":4,"q":0.21,"y":4.35},{"s":4,"q":0.25,"y":3.7},{"s":4,"q":0.29,"y":3.1},{"s":4,"q":0.33,"y":2.5},{"s":4,"q":0.37,"y":1.75},{"s":4,"q":0.41,"y":1.8},{"s":4,"q":0.45,"y":1.4},{"s":4,"q":0.49,"y":1.55},{"s":4,"q":0.53,"y":1.2},
{"s":4,"q":0.57,"y":1.0},{"s":4,"q":0.61,"y":1.1},{"s":4,"q":0.65,"y":0.7},{"s":4,"q":0.69,"y":0.85},{"s":4,"q":0.73,"y":0.45},{"s":4,"q":0.77,"y":0.6},{"s":4,"q":0.81,"y":0.3},{"s":4,"q":0.85,"y":0.45},{"s":4,"q":0.89,"y":0.15},{"s":4,"q":0.93,"y":0.35},
{"s":4,"q":0.97,"y":0.05},{"s":4,"q":1.01,"y":0.25},{"s":4,"q":1.05,"y":-0.1},{"s":4,"q":1.09,"y":0.15},{"s":4,"q":1.13,"y":-0.2},{"s":4,"q":1.17,"y":0.1},{"s":4,"q":1.21,"y":-0.6},{"s":4,"q":1.25,"y":-0.05},{"s":4,"q":1.29,"y":-0.25},{"s":4,"q":1.33,"y":-0.1},
{"s":4,"q":1.37,"y":-0.35},{"s":4,"q":1.41,"y":-0.15},{"s":4,"q":1.45,"y":-0.75},{"s":4,"q":1.49,"y":-0.2},{"s":4,"q":1.53,"y":-0.4},{"s":4,"q":1.57,"y":-0.25},{"s":4,"q":1.61,"y":-0.5},{"s":4,"q":1.65,"y":-0.3},{"s":4,"q":1.69,"y":-0.45},{"s":4,"q":1.73,"y":-0.2},
{"s":4,"q":1.77,"y":-0.55},{"s":4,"q":1.81,"y":-0.35},{"s":4,"q":1.85,"y":-0.4},{"s":4,"q":1.89,"y":-0.6},{"s":4,"q":1.93,"y":-0.3},{"s":4,"q":1.97,"y":-0.5},{"s":4,"q":2.01,"y":-0.35},{"s":4,"q":2.05,"y":-0.65},{"s":4,"q":2.09,"y":-0.4},{"s":4,"q":2.13,"y":-0.55},
{"s":4,"q":2.17,"y":-0.3},{"s":4,"q":2.21,"y":-0.6},{"s":4,"q":2.25,"y":-0.45},{"s":4,"q":2.29,"y":-0.7},{"s":4,"q":2.33,"y":-0.4},{"s":4,"q":2.37,"y":-0.55},{"s":4,"q":2.41,"y":-0.85},{"s":4,"q":2.45,"y":-0.45},{"s":4,"q":2.49,"y":-0.6},{"s":4,"q":2.53,"y":-0.9},
{"s":5,"q":0.17,"y":4.05},{"s":5,"q":0.21,"y":3.4},{"s":5,"q":0.25,"y":2.95},{"s":5,"q":0.29,"y":2.3},{"s":5,"q":0.33,"y":1.45},{"s":5,"q":0.37,"y":1.7},{"s":5,"q":0.41,"y":1.0},{"s":5,"q":0.45,"y":0.6},{"s":5,"q":0.49,"y":0.05},{"s":5,"q":0.53,"y":0.8},
{"s":5,"q":0.57,"y":0.35},{"s":5,"q":0.61,"y":0.6},{"s":5,"q":0.65,"y":-0.05},{"s":5,"q":0.69,"y":0.45},{"s":5,"q":0.73,"y":0.1},{"s":5,"q":0.77,"y":0.4},{"s":5,"q":0.81,"y":0},{"s":5,"q":0.85,"y":0.3},{"s":5,"q":0.89,"y":-0.1},{"s":5,"q":0.93,"y":0.35},
{"s":5,"q":0.97,"y":-0.05},{"s":5,"q":1.01,"y":0.2},{"s":5,"q":1.05,"y":-0.2},{"s":5,"q":1.09,"y":0.15},{"s":5,"q":1.13,"y":-0.3},{"s":5,"q":1.17,"y":0.1},{"s":5,"q":1.21,"y":-0.25},{"s":5,"q":1.25,"y":0.05},{"s":5,"q":1.29,"y":-0.4},{"s":5,"q":1.33,"y":0},
{"s":5,"q":1.37,"y":-0.3},{"s":5,"q":1.41,"y":-0.1},{"s":5,"q":1.45,"y":-0.5},{"s":5,"q":1.49,"y":-0.15},{"s":5,"q":1.53,"y":-0.35},{"s":5,"q":1.57,"y":-0.05},{"s":5,"q":1.61,"y":-0.45},{"s":5,"q":1.65,"y":-0.2},{"s":5,"q":1.69,"y":-0.6},{"s":5,"q":1.73,"y":-0.25},
{"s":5,"q":1.77,"y":-0.4},{"s":5,"q":1.81,"y":-0.75},{"s":5,"q":1.85,"y":-0.3},{"s":5,"q":1.89,"y":-0.55},{"s":5,"q":1.93,"y":-0.35},{"s":5,"q":1.97,"y":-0.65},{"s":5,"q":2.01,"y":-1.5},{"s":5,"q":2.05,"y":-0.5},{"s":5,"q":2.09,"y":-0.4},{"s":5,"q":2.13,"y":-0.7},
{"s":5,"q":2.17,"y":-0.45},{"s":5,"q":2.21,"y":-0.6},{"s":5,"q":2.25,"y":-0.35},{"s":5,"q":2.29,"y":-0.8},{"s":5,"q":2.33,"y":-0.5},{"s":5,"q":2.37,"y":-0.65},{"s":5,"q":2.41,"y":-0.45},{"s":5,"q":2.45,"y":-0.9},{"s":5,"q":2.49,"y":-0.55},{"s":5,"q":2.53,"y":-0.6},
{"s":1,"q":0.47,"y":1.45},{"s":1,"q":0.51,"y":1.35},{"s":1,"q":0.55,"y":1.0},{"s":1,"q":0.59,"y":0.75},{"s":1,"q":0.63,"y":0.7},{"s":1,"q":0.67,"y":0.5},{"s":1,"q":0.71,"y":0.55},{"s":1,"q":0.75,"y":0.3},{"s":1,"q":0.79,"y":0.25},{"s":1,"q":0.83,"y":0.2},
{"s":1,"q":0.87,"y":0.1},{"s":1,"q":0.91,"y":0.05},{"s":1,"q":0.95,"y":0},{"s":1,"q":0.99,"y":-0.1},{"s":1,"q":1.03,"y":-0.05},{"s":1,"q":1.07,"y":-0.15},{"s":1,"q":1.11,"y":-0.25},{"s":1,"q":1.15,"y":-0.2},{"s":1,"q":1.19,"y":-0.3},{"s":1,"q":1.23,"y":-0.4},
{"s":1,"q":1.27,"y":-0.35},{"s":1,"q":1.31,"y":-0.45},{"s":1,"q":1.35,"y":-0.5},{"s":1,"q":1.39,"y":-0.45},{"s":1,"q":1.43,"y":-0.6},{"s":1,"q":1.47,"y":-0.55},{"s":1,"q":1.51,"y":-0.7},{"s":1,"q":1.55,"y":-0.6},{"s":1,"q":1.59,"y":-0.5},{"s":1,"q":1.63,"y":-0.75},
{"s":1,"q":1.67,"y":-0.65},{"s":1,"q":1.71,"y":-0.6},{"s":1,"q":1.75,"y":-0.8},{"s":1,"q":1.79,"y":-0.7},{"s":1,"q":1.83,"y":-0.95},{"s":1,"q":1.87,"y":-1.05},{"s":1,"q":1.91,"y":-0.8},{"s":1,"q":1.95,"y":-0.75},{"s":1,"q":1.99,"y":-1.0},{"s":1,"q":2.03,"y":-0.9},
{"s":1,"q":2.07,"y":-0.85},{"s":1,"q":2.11,"y":-1.0},{"s":1,"q":2.15,"y":-0.95},{"s":1,"q":2.19,"y":-1.15},{"s":1,"q":2.23,"y":-1.1},{"s":1,"q":2.27,"y":-1.0},{"s":1,"q":2.31,"y":-1.2},{"s":1,"q":2.35,"y":-1.05},{"s":1,"q":2.39,"y":-1.2},{"s":1,"q":2.43,"y":-1.3},
{"s":1,"q":2.47,"y":-1.45},{"s":1,"q":2.51,"y":-1.2},
{"s":2,"q":0.47,"y":1.6},{"s":2,"q":0.51,"y":1.3},{"s":2,"q":0.55,"y":1.2},{"s":2,"q":0.59,"y":1.0},{"s":2,"q":0.63,"y":0.95},{"s":2,"q":0.67,"y":0.8},{"s":2,"q":0.71,"y":0.85},{"s":2,"q":0.75,"y":0.6},{"s":2,"q":0.79,"y":0.65},{"s":2,"q":0.83,"y":0.5},
{"s":2,"q":0.87,"y":0.45},{"s":2,"q":0.91,"y":0.35},{"s":2,"q":0.95,"y":0.3},{"s":2,"q":0.99,"y":0.2},{"s":2,"q":1.03,"y":0.25},{"s":2,"q":1.07,"y":0.15},{"s":2,"q":1.11,"y":0.1},{"s":2,"q":1.15,"y":0.05},{"s":2,"q":1.19,"y":0},{"s":2,"q":1.23,"y":-0.05},
{"s":2,"q":1.27,"y":-0.1},{"s":2,"q":1.31,"y":-0.2},{"s":2,"q":1.35,"y":-0.15},{"s":2,"q":1.39,"y":-0.3},{"s":2,"q":1.43,"y":-0.1},{"s":2,"q":1.47,"y":-0.2},{"s":2,"q":1.51,"y":-0.25},{"s":2,"q":1.55,"y":-0.15},{"s":2,"q":1.59,"y":-0.35},{"s":2,"q":1.63,"y":-0.25},
{"s":2,"q":1.67,"y":-0.4},{"s":2,"q":1.71,"y":-0.45},{"s":2,"q":1.75,"y":-0.35},{"s":2,"q":1.79,"y":-0.4},{"s":2,"q":1.83,"y":-0.5},{"s":2,"q":1.87,"y":-0.45},{"s":2,"q":1.91,"y":-0.4},{"s":2,"q":1.95,"y":-0.5},{"s":2,"q":1.99,"y":-0.55},{"s":2,"q":2.03,"y":-0.45},
{"s":2,"q":2.07,"y":-0.6},{"s":2,"q":2.11,"y":-0.5},{"s":2,"q":2.15,"y":-0.6},{"s":2,"q":2.19,"y":-0.7},{"s":2,"q":2.23,"y":-0.55},{"s":2,"q":2.27,"y":-0.6},{"s":2,"q":2.31,"y":-0.65},{"s":2,"q":2.35,"y":-0.7},{"s":2,"q":2.39,"y":-0.75},{"s":2,"q":2.43,"y":-0.6},
{"s":2,"q":2.47,"y":-0.7},{"s":2,"q":2.51,"y":-0.75},
{"s":3,"q":0.47,"y":1.95},{"s":3,"q":0.51,"y":1.75},{"s":3,"q":0.55,"y":1.6},{"s":3,"q":0.59,"y":1.4},{"s":3,"q":0.63,"y":1.3},{"s":3,"q":0.67,"y":1.35},{"s":3,"q":0.71,"y":1.2},{"s":3,"q":0.75,"y":1.15},{"s":3,"q":0.79,"y":1.1},{"s":3,"q":0.83,"y":1.05},
{"s":3,"q":0.87,"y":1.0},{"s":3,"q":0.91,"y":0.95},{"s":3,"q":0.95,"y":1.1},{"s":3,"q":0.99,"y":1.0},{"s":3,"q":1.03,"y":0.85},{"s":3,"q":1.07,"y":0.8},{"s":3,"q":1.11,"y":0.8},{"s":3,"q":1.15,"y":0.75},{"s":3,"q":1.19,"y":0.7},{"s":3,"q":1.23,"y":0.65},
{"s":3,"q":1.27,"y":0.7},{"s":3,"q":1.31,"y":0.6},{"s":3,"q":1.35,"y":0.55},{"s":3,"q":1.39,"y":0.6},{"s":3,"q":1.43,"y":0.55},{"s":3,"q":1.47,"y":0.6},{"s":3,"q":1.51,"y":0.5},{"s":3,"q":1.55,"y":0.45},{"s":3,"q":1.59,"y":0.5},{"s":3,"q":1.63,"y":0.4},
{"s":3,"q":1.67,"y":0.45},{"s":3,"q":1.71,"y":0.4},{"s":3,"q":1.75,"y":0.35},{"s":3,"q":1.79,"y":0.4},{"s":3,"q":1.83,"y":0.35},{"s":3,"q":1.87,"y":0.35},{"s":3,"q":1.91,"y":0.3},{"s":3,"q":1.95,"y":0.3},{"s":3,"q":1.99,"y":0.3},{"s":3,"q":2.03,"y":0.35},
{"s":3,"q":2.07,"y":0.3},{"s":3,"q":2.11,"y":0.25},{"s":3,"q":2.15,"y":0.2},{"s":3,"q":2.19,"y":0.15},{"s":3,"q":2.23,"y":0.2},{"s":3,"q":2.27,"y":0.1},{"s":3,"q":2.31,"y":0.2},{"s":3,"q":2.35,"y":0.15},{"s":3,"q":2.39,"y":0.05},{"s":3,"q":2.43,"y":0.15},
{"s":3,"q":2.47,"y":0.2},{"s":3,"q":2.51,"y":0.15},
{"s":4,"q":0.47,"y":1.3},{"s":4,"q":0.51,"y":1.45},{"s":4,"q":0.55,"y":1.05},{"s":4,"q":0.59,"y":0.95},{"s":4,"q":0.63,"y":0.85},{"s":4,"q":0.67,"y":0.6},{"s":4,"q":0.71,"y":0.7},{"s":4,"q":0.75,"y":0.45},{"s":4,"q":0.79,"y":0.5},{"s":4,"q":0.83,"y":0.3},
{"s":4,"q":0.87,"y":0.4},{"s":4,"q":0.91,"y":0.2},{"s":4,"q":0.95,"y":0.25},{"s":4,"q":0.99,"y":0.1},{"s":4,"q":1.03,"y":0.15},{"s":4,"q":1.07,"y":0},{"s":4,"q":1.11,"y":0.05},{"s":4,"q":1.15,"y":-0.1},{"s":4,"q":1.19,"y":-0.25},{"s":4,"q":1.23,"y":-0.3},
{"s":4,"q":1.27,"y":-0.1},{"s":4,"q":1.31,"y":-0.2},{"s":4,"q":1.35,"y":-0.15},{"s":4,"q":1.39,"y":-0.25},{"s":4,"q":1.43,"y":-0.3},{"s":4,"q":1.47,"y":-0.45},{"s":4,"q":1.51,"y":-0.3},{"s":4,"q":1.55,"y":-0.35},{"s":4,"q":1.59,"y":-0.3},{"s":4,"q":1.63,"y":-0.4},
{"s":4,"q":1.67,"y":-0.35},{"s":4,"q":1.71,"y":-0.3},{"s":4,"q":1.75,"y":-0.45},{"s":4,"q":1.79,"y":-0.4},{"s":4,"q":1.83,"y":-0.5},{"s":4,"q":1.87,"y":-0.45},{"s":4,"q":1.91,"y":-0.4},{"s":4,"q":1.95,"y":-0.45},{"s":4,"q":1.99,"y":-0.5},{"s":4,"q":2.03,"y":-0.4},
{"s":4,"q":2.07,"y":-0.45},{"s":4,"q":2.11,"y":-0.5},{"s":4,"q":2.15,"y":-0.45},{"s":4,"q":2.19,"y":-0.55},{"s":4,"q":2.23,"y":-0.5},{"s":4,"q":2.27,"y":-0.6},{"s":4,"q":2.31,"y":-0.55},{"s":4,"q":2.35,"y":-0.5},{"s":4,"q":2.39,"y":-0.65},{"s":4,"q":2.43,"y":-0.6},
{"s":4,"q":2.47,"y":-0.5},{"s":4,"q":2.51,"y":-0.7},
{"s":5,"q":0.47,"y":0.3},{"s":5,"q":0.51,"y":0.45},{"s":5,"q":0.55,"y":0.5},{"s":5,"q":0.59,"y":0.25},{"s":5,"q":0.63,"y":0.3},{"s":5,"q":0.67,"y":0.2},{"s":5,"q":0.71,"y":0.25},{"s":5,"q":0.75,"y":0.15},{"s":5,"q":0.79,"y":0.2},{"s":5,"q":0.83,"y":0.1},
{"s":5,"q":0.87,"y":0.15},{"s":5,"q":0.91,"y":0.05},{"s":5,"q":0.95,"y":0.1},{"s":5,"q":0.99,"y":0},{"s":5,"q":1.03,"y":0},{"s":5,"q":1.07,"y":-0.05},{"s":5,"q":1.11,"y":-0.1},{"s":5,"q":1.15,"y":-0.15},{"s":5,"q":1.19,"y":-0.05},{"s":5,"q":1.23,"y":-0.2},
{"s":5,"q":1.27,"y":-0.15},{"s":5,"q":1.31,"y":-0.1},{"s":5,"q":1.35,"y":-0.2},{"s":5,"q":1.39,"y":-0.25},{"s":5,"q":1.43,"y":-0.15},{"s":5,"q":1.47,"y":-0.3},{"s":5,"q":1.51,"y":-0.25},{"s":5,"q":1.55,"y":-0.2},{"s":5,"q":1.59,"y":-0.3},{"s":5,"q":1.63,"y":-0.35},
{"s":5,"q":1.67,"y":-0.4},{"s":5,"q":1.71,"y":-0.35},{"s":5,"q":1.75,"y":-0.45},{"s":5,"q":1.79,"y":-0.4},{"s":5,"q":1.83,"y":-0.5},{"s":5,"q":1.87,"y":-0.45},{"s":5,"q":1.91,"y":-0.6},{"s":5,"q":1.95,"y":-0.55},{"s":5,"q":1.99,"y":-0.5},{"s":5,"q":2.03,"y":-0.4},
{"s":5,"q":2.07,"y":-0.8},{"s":5,"q":2.11,"y":-0.55},{"s":5,"q":2.15,"y":-0.5},{"s":5,"q":2.19,"y":-0.55},{"s":5,"q":2.23,"y":-0.6},{"s":5,"q":2.27,"y":-0.5},{"s":5,"q":2.31,"y":-0.65},{"s":5,"q":2.35,"y":-0.55},{"s":5,"q":2.39,"y":-0.7},{"s":5,"q":2.43,"y":-0.6},
{"s":5,"q":2.47,"y":-0.65},{"s":5,"q":2.51,"y":-0.7}
]
},
"spacing":78,
"hconcat":[
{
 "width":356,"height":285,
 "layer":[
  {"data":{"name":"a"},"mark":{"type":"line","strokeWidth":1.4},
   "encoding":{
    "x":{"field":"q","type":"quantitative","scale":{"domain":[-0.2,2.8],"nice":false,"zero":false},
     "axis":{"values":[0,0.25,0.5,0.75,1,1.25,1.5,1.75,2,2.25,2.5,2.75],"labelExpr":"datum.value % 0.5 === 0 ? format(datum.value,'.1f') : ''","tickSize":{"condition":{"test":"datum.value % 0.5 !== 0","value":-3},"value":-5},"labelPadding":12,"labelColor":"transparent","title":"q (nm⁻¹)","titlePadding":12}},
    "y":{"field":"y","type":"quantitative","scale":{"domain":[-3,6],"nice":false,"zero":false},
     "axis":{"values":[-2,-1,0,1,2,3,4,5,6],"labelExpr":"datum.value % 2 === 0 ? '' + datum.value : ''","tickSize":{"condition":{"test":"datum.value % 2 !== 0","value":-3},"value":-5},"labelPadding":12,"title":"lnI (cm⁻¹)","titlePadding":8}},
    "color":{"field":"s","type":"nominal","scale":{"domain":[1,2,3,4,5],"range":["#3a3a3a","#f23a3a","#2563d9","#2e9a52","#b57de8"]},
     "legend":{"legendX":207,"legendY":16,"labelExpr":"['t₁=60 ms\u2002\u2002\u2009Q=5.06','t₂=80 ms\u2002\u2002\u2009Q=5.99','t₃=120 ms\u2002Q=15.00','t₄=130 ms\u2002Q=9.34','t₅=160 ms\u2002Q=6.23'][datum.value-1]"}}
   }},
  {"data":{"values":[{"q":0.0,"y":-2.1,"t":"(a) 80 ms Ignition delay time"}]},
   "mark":{"type":"text","align":"left","baseline":"middle","fontSize":16,"font":"Liberation Serif","color":"#222"},
   "encoding":{"x":{"field":"q","type":"quantitative"},"y":{"field":"y","type":"quantitative"},"text":{"field":"t"}}}
 ]
},
{
 "spacing":70,
 "bounds":"flush",
 "hconcat":[
 {
 "width":355,"height":285,
 "layer":[
  {"data":{"name":"b"},"mark":{"type":"line","strokeWidth":1.4},
   "encoding":{
    "x":{"field":"q","type":"quantitative","scale":{"domain":[-0.2,2.8],"nice":false,"zero":false},
     "axis":{"values":[0,0.25,0.5,0.75,1,1.25,1.5,1.75,2,2.25,2.5,2.75],"labelExpr":"datum.value % 0.5 === 0 ? format(datum.value,'.1f') : ''","tickSize":{"condition":{"test":"datum.value % 0.5 !== 0","value":-3},"value":-5},"labelPadding":12,"labelColor":"transparent","title":"q (nm⁻¹)","titlePadding":12}},
    "y":{"field":"y","type":"quantitative","scale":{"domain":[-3,6],"nice":false,"zero":false},
     "axis":{"values":[-2,-1,0,1,2,3,4,5,6],"labelExpr":"datum.value % 2 === 0 ? '' + datum.value : ''","tickSize":{"condition":{"test":"datum.value % 2 !== 0","value":-3},"value":-5},"labelPadding":12,"title":"lnI (cm⁻¹)","titlePadding":12}},
    "color":{"field":"s","type":"nominal","scale":{"domain":[1,2,3,4,5],"range":["#3a3a3a","#f23a3a","#2563d9","#2e9a52","#b57de8"]},
     "legend":{"legendX":209,"legendY":22,"labelExpr":"['t₁=60 ms\u2002\u2002\u2009Q=5.42','t₂=100 ms\u2002Q=6.51','t₃=150 ms\u2002Q=9.92','t₄=170 ms\u2002Q=9.37','t₅=210 ms\u2002Q=3.81'][datum.value-1]"}}
   }},
  {"data":{"values":[{"q":0.0,"y":-2.3,"t":"(b) 100 ms Ignition delay time"}]},
   "mark":{"type":"text","align":"left","baseline":"middle","fontSize":16,"font":"Liberation Serif","color":"#222"},
   "encoding":{"x":{"field":"q","type":"quantitative","axis":{"orient":"top","values":[0,0.25,0.5,0.75,1,1.25,1.5,1.75,2,2.25,2.5,2.75],"labels":false,"title":null,"ticks":true,"tickSize":5}},"y":{"field":"y","type":"quantitative"},"text":{"field":"t"}}}
 ],
 "resolve":{"axis":{"x":"independent"}}
 },
 {
 "width":355,"height":285,
 "layer":[
  {"data":{"name":"c"},"mark":{"type":"line","strokeWidth":1.4},
   "encoding":{
    "x":{"field":"q","type":"quantitative","scale":{"domain":[-0.2,2.8],"nice":false,"zero":false},
     "axis":{"values":[0,0.25,0.5,0.75,1,1.25,1.5,1.75,2,2.25,2.5,2.75],"labelExpr":"datum.value % 0.5 === 0 ? format(datum.value,'.1f') : ''","tickSize":{"condition":{"test":"datum.value % 0.5 !== 0","value":-3},"value":-5},"labelPadding":12,"title":"q (nm⁻¹)","titlePadding":12}},
    "y":{"field":"y","type":"quantitative","scale":{"domain":[-3,6],"nice":false,"zero":false},
     "axis":{"values":[-2,-1,0,1,2,3,4,5,6],"labelExpr":"datum.value % 2 === 0 ? '' + datum.value : ''","tickSize":{"condition":{"test":"datum.value % 2 !== 0","value":-3},"value":-5},"labelPadding":12,"title":"lnI (cm⁻¹)","titlePadding":10}},
    "color":{"field":"s","type":"nominal","scale":{"domain":[1,2,3,4,5],"range":["#3a3a3a","#f23a3a","#2563d9","#2e9a52","#b57de8"]},
     "legend":{"legendX":208,"legendY":20,"labelExpr":"['t₁=60 ms\u2002\u2002\u2009Q=5.34','t₂=120 ms\u2002Q=6.34','t₃=180 ms\u2002Q=7.79','t₄=200 ms\u2002Q=3.85','t₅=280 ms\u2002Q=3.04'][datum.value-1]"}}
   }},
  {"data":{"values":[{"q":0.0,"y":-2.2,"t":"(c) 120 ms Ignition delay time"}]},
   "mark":{"type":"text","align":"left","baseline":"middle","fontSize":16,"font":"Liberation Serif","color":"#222"},
   "encoding":{"x":{"field":"q","type":"quantitative","axis":{"orient":"top","values":[0,0.25,0.5,0.75,1,1.25,1.5,1.75,2,2.25,2.5,2.75],"labels":false,"title":null,"ticks":true,"tickSize":5}},"y":{"field":"y","type":"quantitative"},"text":{"field":"t"}}}
 ],
 "resolve":{"axis":{"x":"independent"}}
 }
 ],
 "resolve":{"scale":{"color":"independent"},"legend":{"color":"independent"}}
}
],
"resolve":{"scale":{"color":"independent"},"legend":{"color":"independent"}}
}
